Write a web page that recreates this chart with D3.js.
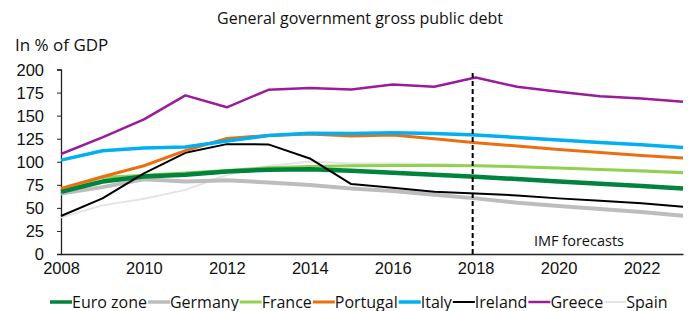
<!DOCTYPE html>
<html>
<head>
<meta charset="utf-8">
<script src="https://cdn.jsdelivr.net/npm/d3@7"></script>
<style>
  body { margin: 0; background: #fff; }
  svg { font-family: "Open Sans", sans-serif; }
</style>
</head>
<body>
<svg id="chart" width="688" height="311"></svg>
<script>
// Anos e séries (% do PIB)
const years = d3.range(2008, 2024);
const euroZone = [67.5, 78.5, 84, 86, 89.5, 91.3, 91.8, 90.2, 88, 86, 83.8, 81.2, 78.7, 76.2, 73.6, 71.1];
const germany  = [65.5, 72.5, 81, 78.6, 80, 77.5, 74.7, 71.1, 68.2, 64.3, 60.3, 55.6, 52, 48.7, 45.5, 41.5];
const france   = [68.8, 83, 85.3, 87.8, 90.6, 93.4, 94.9, 95.6, 96, 96, 95.7, 94.6, 93.1, 91.7, 89.9, 88];
const portugal = [71.1, 83.8, 95.7, 112, 125.3, 128.5, 130, 127.8, 128.9, 125, 120.6, 117, 113.4, 110, 106.9, 104];
const italy    = [101.8, 112, 115, 116, 122.4, 128.5, 131, 130.7, 131.4, 130.7, 128.9, 126.4, 123.5, 121, 118.4, 115.5];
const ireland  = [41.2, 60.3, 87.4, 109.7, 119.1, 118.8, 103.6, 75.8, 71.8, 67.5, 65.7, 63.5, 60.3, 57.8, 54.9, 51.3];
const greece   = [108.4, 126.4, 146, 172, 159, 178, 180, 178.3, 183.8, 181.2, 191.3, 181.2, 175.8, 171, 168.6, 165];
const spain    = [39.5, 52.7, 60, 69.5, 85.7, 95.5, 100.4, 98.2, 98.2, 97.5, 96.4, 94.6, 93.1, 92, 91, 89.5];

const yTicks = [0, 25, 50, 75, 100, 125, 150, 175, 200];
const xTicks = [2008, 2010, 2012, 2014, 2016, 2018, 2020, 2022];
const forecastYear = 2018;

const series = [
  { name: "Euro zone", values: euroZone, color: "#00843d", width: 4.5 },
  { name: "Germany",   values: germany,  color: "#bdbdbd", width: 4 },
  { name: "France",    values: france,   color: "#92d050", width: 3 },
  { name: "Portugal",  values: portugal, color: "#ed6e10", width: 3 },
  { name: "Italy",     values: italy,    color: "#00b0f0", width: 3.5 },
  { name: "Ireland",   values: ireland,  color: "#000000", width: 2 },
  { name: "Greece",    values: greece,   color: "#9a1b9c", width: 2.5 },
  { name: "Spain",     values: spain,    color: "#e4e4e4", width: 2 }
];

const svg = d3.select("#chart");
const x = d3.scaleLinear().domain([2008, 2023]).range([61, 683]);
const y = d3.scaleLinear().domain([0, 200]).range([254, 69.5]);

// Título
svg.append("text")
  .attr("x", 360).attr("y", 24)
  .attr("text-anchor", "middle")
  .style("font-size", "16px").attr("fill", "#111")
  .text("General government gross public debt");

svg.append("text")
  .attr("x", 15).attr("y", 51)
  .style("font-size", "17px").attr("fill", "#111")
  .text("In % of GDP");

// Eixo Y
const yAxis = svg.append("g")
  .attr("transform", "translate(61,0)")
  .call(d3.axisLeft(y).tickValues(yTicks).tickSize(4).tickPadding(13));
yAxis.select(".domain").attr("stroke", "#222").attr("stroke-width", 1.3);
yAxis.selectAll(".tick line").attr("stroke", "#222");
yAxis.selectAll("text").style("font-size", "16.5px").attr("fill", "#111").attr("dy", "0.35em");

// Eixo X
const xAxis = svg.append("g")
  .attr("transform", "translate(0,254)")
  .call(d3.axisBottom(x).tickValues(xTicks).tickFormat(d3.format("d")).tickSize(0).tickPadding(8));
xAxis.select(".domain").attr("stroke", "#222").attr("stroke-width", 1.3);
xAxis.selectAll("text").style("font-size", "16.5px").attr("fill", "#111");

// Linhas (ordem de desenho: claras por baixo)
const line = d3.line().x((d, i) => x(years[i])).y(d => y(d));
const drawOrder = ["Spain", "Germany", "France", "Euro zone", "Ireland", "Portugal", "Italy", "Greece"];
drawOrder.forEach(n => {
  const s = series.find(d => d.name === n);
  svg.append("path")
    .datum(s.values)
    .attr("d", line)
    .attr("fill", "none")
    .attr("stroke", s.color)
    .attr("stroke-width", s.width)
    .attr("stroke-linejoin", "round");
});

// Linha de previsão
svg.append("line")
  .attr("x1", x(forecastYear) - 3).attr("x2", x(forecastYear) - 3)
  .attr("y1", 73).attr("y2", 254)
  .attr("stroke", "#000").attr("stroke-width", 2)
  .attr("stroke-dasharray", "5,3");

svg.append("text")
  .attr("x", 534).attr("y", 246)
  .style("font-size", "14.5px").attr("fill", "#111")
  .text("IMF forecasts");

// Legenda
const leg = svg.append("g");
let lx = 50;
series.forEach(s => {
  leg.append("line")
    .attr("x1", lx).attr("x2", lx + 22)
    .attr("y1", 302).attr("y2", 302)
    .attr("stroke", s.color).attr("stroke-width", Math.min(s.width, 3.5));
  const t = leg.append("text")
    .attr("x", lx + 22).attr("y", 307.5)
    .style("font-size", "16px").attr("fill", "#111")
    .text(s.name);
  lx += 22 + t.node().getComputedTextLength() + 1;
});
</script>
</body>
</html>
